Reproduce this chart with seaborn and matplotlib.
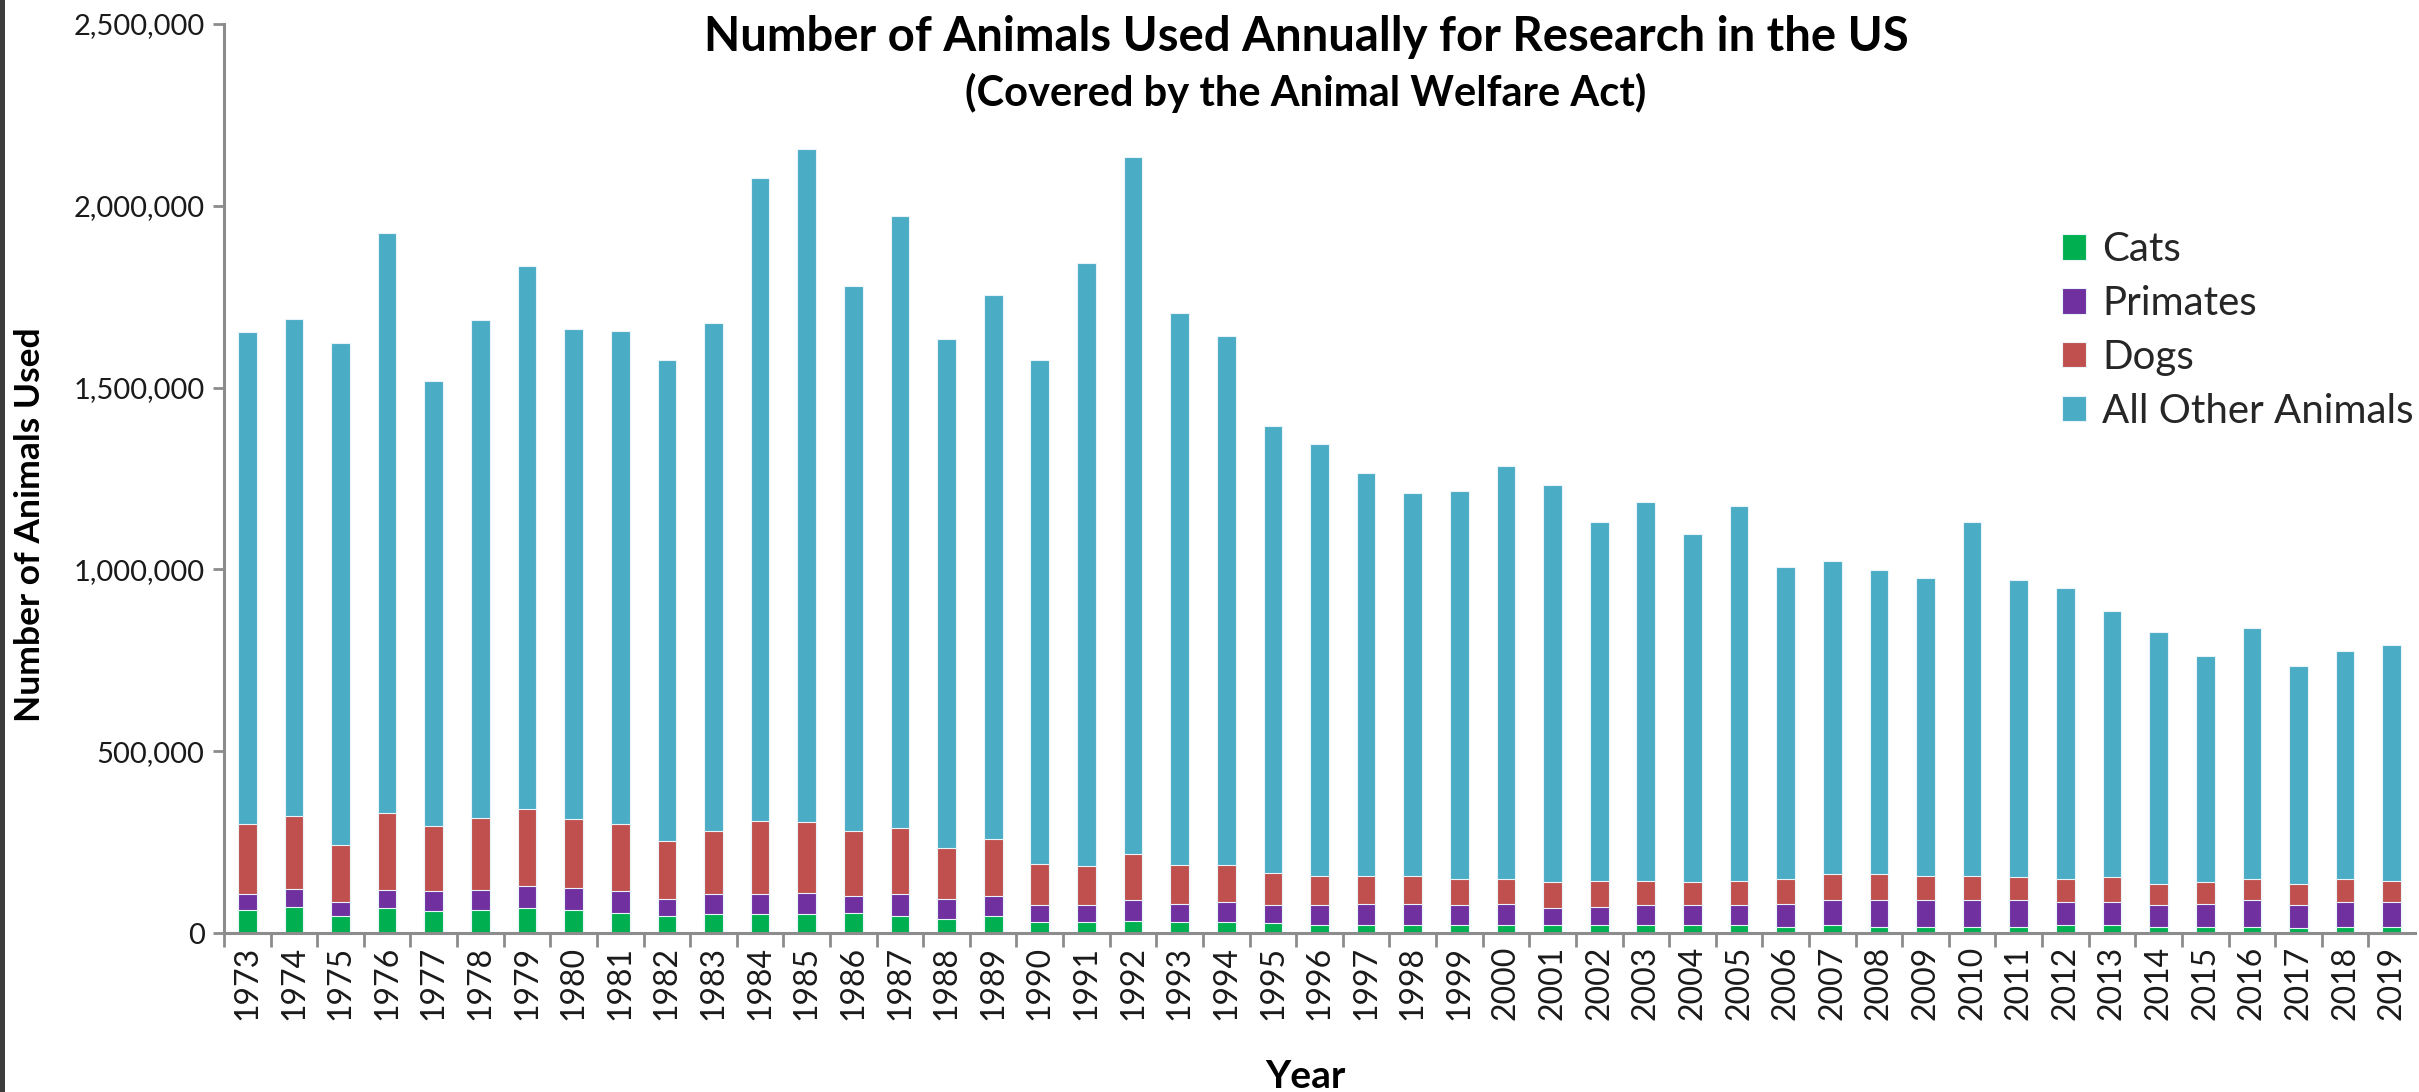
import numpy as np
import pandas as pd
import matplotlib
matplotlib.use("Agg")
import matplotlib.pyplot as plt
import seaborn as sns
from matplotlib.ticker import FuncFormatter, FixedLocator
from matplotlib.patches import Patch, Rectangle

# Animals used in research each year (covered by the Animal Welfare Act)
years = ["1973", "1974", "1975", "1976", "1977", "1978", "1979", "1980", "1981", "1982",
         "1983", "1984", "1985", "1986", "1987", "1988", "1989", "1990", "1991", "1992",
         "1993", "1994", "1995", "1996", "1997", "1998", "1999", "2000", "2001", "2002",
         "2003", "2004", "2005", "2006", "2007", "2008", "2009", "2010", "2011", "2012",
         "2013", "2014", "2015", "2016", "2017", "2018", "2019"]

cats = [64000, 72000, 47000, 68000, 60000, 64000, 68000, 64000, 56000, 47000,
        51000, 51000, 51000, 56000, 47000, 38000, 47000, 30000, 30000, 34000,
        30000, 30000, 27000, 22000, 22000, 22000, 22000, 22000, 22000, 22000,
        22000, 22000, 22000, 17000, 22000, 17000, 17000, 17000, 17000, 22000,
        22000, 17000, 17000, 17000, 13000, 17000, 17000]

primates = [42000, 50000, 38000, 50000, 55000, 54000, 60000, 59000, 59000, 47000,
            55000, 55000, 59000, 46000, 59000, 55000, 55000, 47000, 47000, 56000,
            51000, 55000, 50000, 55000, 59000, 59000, 55000, 59000, 47000, 50000,
            55000, 55000, 55000, 63000, 68000, 73000, 73000, 73000, 73000, 63000,
            63000, 60000, 64000, 73000, 64000, 68000, 68000]

dogs = [195000, 199000, 157000, 212000, 178000, 199000, 212000, 191000, 186000, 160000,
        174000, 203000, 196000, 178000, 182000, 140000, 157000, 114000, 106000, 127000,
        106000, 102000, 89000, 80000, 76000, 76000, 72000, 68000, 71000, 72000,
        67000, 63000, 67000, 68000, 72000, 72000, 67000, 67000, 63000, 63000,
        68000, 59000, 59000, 59000, 59000, 64000, 59000]

other = [1351000, 1368000, 1382000, 1594000, 1224000, 1369000, 1495000, 1347000, 1356000, 1322000,
         1398000, 1767000, 1850000, 1499000, 1683000, 1402000, 1495000, 1386000, 1660000, 1918000,
         1517000, 1454000, 1229000, 1187000, 1108000, 1053000, 1067000, 1135000, 1092000, 987000,
         1042000, 958000, 1030000, 859000, 860000, 835000, 818000, 974000, 818000, 800000,
         733000, 691000, 623000, 690000, 598000, 627000, 649000]

series_names = ["Cats", "Primates", "Dogs", "All Other Animals"]
series_colors = ["#00B050", "#7030A0", "#C0504D", "#4BACC6"]

df = pd.DataFrame({"Year": years, "Cats": cats, "Primates": primates,
                   "Dogs": dogs, "All Other Animals": other})

# stack tops: each layer drawn as the running total, tallest first
stack = df[series_names].cumsum(axis=1)

sns.set_theme(style="white")
plt.rcParams["font.family"] = ["Lato", "DejaVu Sans"]

W, H = 2419, 1092
fig = plt.figure(figsize=(W / 100, H / 100), dpi=100)
fig.patch.set_facecolor("white")
ax = fig.add_axes([224 / W, 1 - 933 / H, (2415 - 224) / W, (933 - 24) / H])

for name, color in reversed(list(zip(series_names, series_colors))):
    sns.barplot(x=df["Year"], y=stack[name], order=years, color=color, saturation=1,
                width=0.4, errorbar=None, edgecolor="#e8f4f8", linewidth=0.8, ax=ax)

ax.set_xlim(-0.5, len(years) - 0.5)
ax.set_ylim(0, 2500000)
ax.yaxis.set_major_locator(FixedLocator([0, 500000, 1000000, 1500000, 2000000, 2500000]))
ax.yaxis.set_major_formatter(FuncFormatter(lambda v, p: f"{int(v):,}"))

ax.set_xlabel("")
ax.set_ylabel("")
for s in ["top", "right"]:
    ax.spines[s].set_visible(False)
for s in ["left", "bottom"]:
    ax.spines[s].set_color("#8c8c8c")
    ax.spines[s].set_linewidth(2.2)

ax.tick_params(axis="y", which="major", direction="out", length=8, width=2,
               color="#8c8c8c", labelsize=21, labelcolor="#1a1a1a", pad=6, left=True)
ax.tick_params(axis="x", which="major", length=0, labelsize=23, labelcolor="#1a1a1a",
               pad=9, labelrotation=90)
ax.set_xticks(np.arange(len(years)) - 0.5, minor=True)
ax.tick_params(axis="x", which="minor", direction="out", length=10, width=2,
               color="#8c8c8c", bottom=True)
ax.grid(False)

fig.text(1306 / W, 1 - 37 / H, "Number of Animals Used Annually for Research in the US",
         ha="center", va="center", fontsize=34, fontweight="bold", color="#000000")
fig.text(1306 / W, 1 - 93 / H, "(Covered by the Animal Welfare Act)",
         ha="center", va="center", fontsize=30, fontweight="bold", color="#000000")
fig.text(30 / W, 1 - 525 / H, "Number of Animals Used", rotation=90,
         ha="center", va="center", fontsize=25.5, fontweight="bold", color="#000000")
fig.text(1305 / W, 1 - 1077 / H, "Year", ha="center", va="center",
         fontsize=28, fontweight="bold", color="#000000")

handles = [Patch(facecolor=c, edgecolor="#e8f4f8", linewidth=0.8) for c in series_colors]
ax.legend(handles, series_names, loc="upper left",
          bbox_to_anchor=(2062 / W, 1 - 231 / H), bbox_transform=fig.transFigure,
          frameon=False, fontsize=29, handlelength=0.6, handleheight=0.6,
          handletextpad=0.4, labelspacing=0.42, borderaxespad=0, borderpad=0)

# dark strip along the left edge of the canvas
fig.patches.append(Rectangle((0, 0), 5 / W, 1, transform=fig.transFigure,
                             facecolor="#3c3c3c", edgecolor="none", zorder=10))

fig.savefig("out.png", dpi=100, facecolor="white")
